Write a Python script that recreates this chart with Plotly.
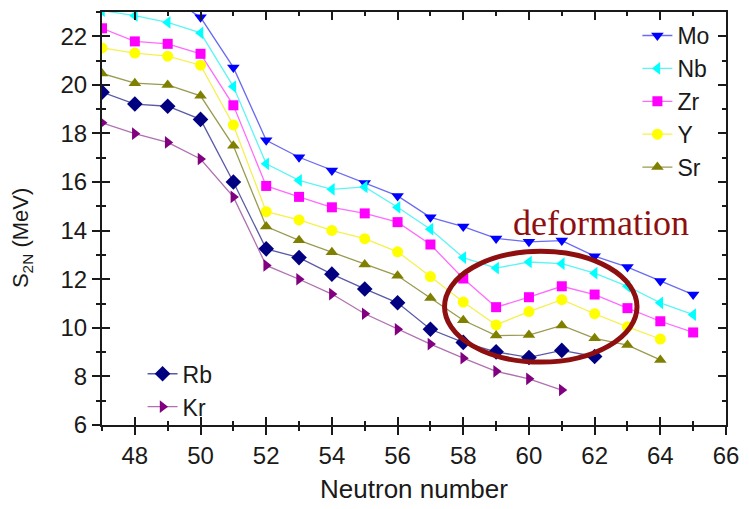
import plotly.graph_objects as go

# Two-neutron separation energies S2N (MeV) versus neutron number
N_Mo = list(range(47, 66))
S_Mo = [24.6, 24.1, 23.66, 22.78, 20.72, 17.72, 17.02, 16.48, 15.96, 15.43,
        14.55, 14.17, 13.68, 13.54, 13.59, 12.95, 12.50, 11.93, 11.37]

N_Nb = list(range(47, 66))
S_Nb = [23.06, 22.85, 22.57, 22.14, 19.93, 16.75, 16.07, 15.70, 15.80, 14.96,
        14.06, 12.89, 12.46, 12.71, 12.64, 12.25, 11.71, 11.03, 10.54]

N_Zr = list(range(47, 66))
S_Zr = [22.33, 21.79, 21.69, 21.28, 19.16, 15.84, 15.39, 14.96, 14.71, 14.35,
        13.43, 12.03, 10.85, 11.26, 11.71, 11.37, 10.81, 10.27, 9.81]

N_Y = list(range(47, 65))
S_Y = [21.52, 21.31, 21.18, 20.81, 18.35, 14.78, 14.44, 14.01, 13.67, 13.13,
       12.11, 11.06, 10.12, 10.67, 11.16, 10.58, 10.04, 9.54]

N_Sr = list(range(47, 65))
S_Sr = [20.47, 20.07, 20.00, 19.55, 17.49, 14.17, 13.60, 13.11, 12.61, 12.14,
        11.23, 10.31, 9.68, 9.70, 10.10, 9.57, 9.29, 8.68]

N_Rb = list(range(47, 63))
S_Rb = [19.70, 19.21, 19.12, 18.58, 16.00, 13.25, 12.89, 12.21, 11.60, 11.03,
        9.94, 9.40, 9.01, 8.78, 9.07, 8.82]

N_Kr = list(range(47, 62))
S_Kr = [18.44, 17.99, 17.63, 16.95, 15.39, 12.57, 12.00, 11.39, 10.58, 9.94,
        9.33, 8.75, 8.21, 7.90, 7.44]

# Region of onset of deformation (N, S2N bounds)
deform_N = [57.43, 63.29]
deform_S = [8.59, 13.15]

FONT = "Liberation Sans, Arial, sans-serif"

series = [
    ("Mo", N_Mo, S_Mo, "triangle-down", "#0000FF", "#6B6BF2", 11, "legend"),
    ("Nb", N_Nb, S_Nb, "triangle-left", "#00FFFF", "#5CF5F5", 11, "legend"),
    ("Zr", N_Zr, S_Zr, "square", "#FF00FF", "#FF6BFF", 10, "legend"),
    ("Y", N_Y, S_Y, "circle", "#FFFF00", "#F5F050", 11, "legend"),
    ("Sr", N_Sr, S_Sr, "triangle-up", "#808000", "#9A9A50", 11, "legend"),
    ("Rb", N_Rb, S_Rb, "diamond", "#000080", "#5A5AA8", 12, "legend2"),
    ("Kr", N_Kr, S_Kr, "triangle-right", "#800080", "#B070B0", 11, "legend2"),
]

fig = go.Figure()
for name, xs, ys, sym, mcol, lcol, msize, leg in series:
    fig.add_trace(go.Scatter(
        x=xs, y=ys, name=name, mode="lines+markers",
        line=dict(color=lcol, width=1.3),
        marker=dict(symbol=sym, size=msize, color=mcol, line=dict(width=0)),
        legend=leg,
    ))

# companion axes carrying the inward ticks (crossed-tick look) and mirrored ticks
fig.add_trace(go.Scatter(x=[], y=[], xaxis="x2", yaxis="y2",
                         showlegend=False, hoverinfo="skip"))

axis_common = dict(
    showgrid=False, zeroline=False, showline=True, linecolor="#1a1a1a",
    linewidth=2, tickcolor="#1a1a1a", tickwidth=1.5, ticklen=8,
    tickfont=dict(family=FONT, size=24, color="#1a1a1a"),
)

fig.update_layout(
    width=749, height=509,
    margin=dict(l=102, r=17, t=10, b=81),
    paper_bgcolor="white", plot_bgcolor="white",
    xaxis=dict(range=[47, 66], tick0=48, dtick=2, ticks="outside",
               minor=dict(ticks="outside", ticklen=4, dtick=1, tickwidth=1.5,
                          tickcolor="#1a1a1a"),
               mirror=True,
               title=dict(text="Neutron number", standoff=12,
                          font=dict(family=FONT, size=26, color="#1a1a1a")),
               **axis_common),
    yaxis=dict(range=[6, 23], tick0=6, dtick=2, ticks="outside",
               minor=dict(ticks="outside", ticklen=4, dtick=1, tickwidth=1.5,
                          tickcolor="#1a1a1a"),
               mirror=True, **axis_common),
    xaxis2=dict(overlaying="x", anchor="y", side="bottom", range=[47, 66],
                tick0=48, dtick=2, ticks="inside", mirror="ticks",
                showticklabels=False,
                minor=dict(ticks="inside", ticklen=4, dtick=1, tickwidth=1.5,
                           tickcolor="#1a1a1a"),
                **axis_common),
    yaxis2=dict(overlaying="y", anchor="x", side="left", range=[6, 23],
                tick0=6, dtick=2, ticks="inside", mirror="ticks",
                showticklabels=False,
                minor=dict(ticks="inside", ticklen=4, dtick=1, tickwidth=1.5,
                           tickcolor="#1a1a1a"),
                **axis_common),
    legend=dict(x=0.858, y=0.995, xanchor="left", yanchor="top",
                bgcolor="rgba(0,0,0,0)", tracegroupgap=0,
                font=dict(family=FONT, size=23, color="#1a1a1a")),
    legend2=dict(x=0.065, y=0.176, xanchor="left", yanchor="top",
                 bgcolor="rgba(0,0,0,0)", tracegroupgap=0,
                 font=dict(family=FONT, size=23, color="#1a1a1a")),
    showlegend=True,
)

# y-axis title with subscript
fig.add_annotation(
    text="S<sub>2N</sub> (MeV)", textangle=-90,
    xref="paper", yref="paper", x=-0.127, y=0.452,
    xanchor="center", yanchor="middle", showarrow=False,
    font=dict(family=FONT, size=22, color="#1a1a1a"),
)

# deformation region marker
fig.add_shape(type="circle", xref="x", yref="y",
              x0=deform_N[0], x1=deform_N[1], y0=deform_S[0], y1=deform_S[1],
              line=dict(color="#8E0F0F", width=5))
fig.add_annotation(
    text="deformation", xref="x", yref="y", x=62.2, y=14.3,
    xanchor="center", yanchor="middle", showarrow=False,
    font=dict(family="Liberation Serif, Times New Roman, serif", size=36,
              color="#8E0F0F"),
)

fig.write_html("out.html")
